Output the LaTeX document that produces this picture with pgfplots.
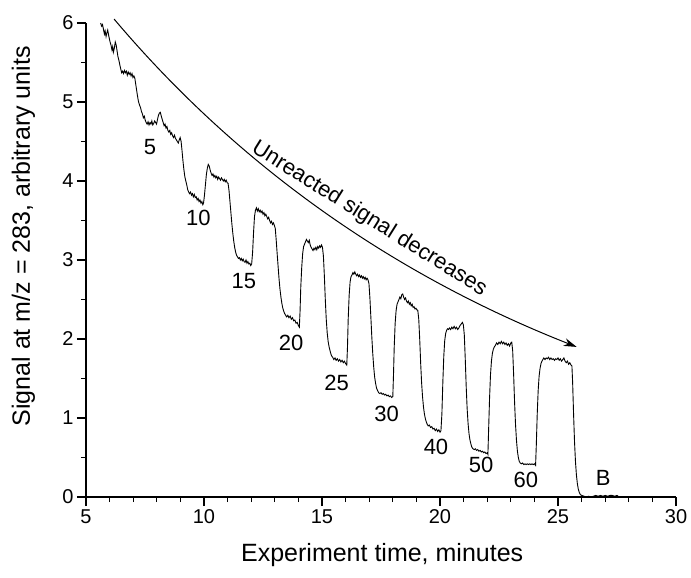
\documentclass[border=0pt]{standalone}
\usepackage{fontspec}
\setmainfont{Liberation Sans}
\usepackage{pgfplots}
\pgfplotsset{compat=1.18}
\usetikzlibrary{arrows.meta}
\newcommand{\tickfont}{\fontsize{20bp}{24bp}\selectfont}
\newcommand{\labfont}{\fontsize{25bp}{30bp}\selectfont}
\newcommand{\annfont}{\fontsize{22bp}{26bp}\selectfont}
\begin{document}
\begin{tikzpicture}
\begin{axis}[
 scale only axis, width=590bp, height=474bp,
 xmin=5, xmax=30, ymin=0, ymax=6,
 axis lines=left, axis line style={-, line width=1.1bp},
 xtick={5,10,...,30}, ytick={0,1,...,6},
 minor x tick num=4, minor y tick num=1,
 tick align=outside, major tick length=9bp, minor tick length=5bp,
 tick style={line width=1.1bp, black},
 /pgf/number format/assume math mode=true,
 tick label style={font=\tickfont},
 xlabel={Experiment time, minutes},
 ylabel={Signal at m/z = 283, arbitrary units},
 every axis x label/.style={at={(axis description cs:0.502,-0.122)},anchor=center,font=\labfont},
 every axis y label/.style={at={(axis description cs:-0.106,0.55)},anchor=center,rotate=90,font=\labfont},
 clip=false,
]
\addplot[black, line width=0.9bp] table {
x y
5.62 6.00
5.66 5.96
5.70 5.98
5.74 5.92
5.78 5.86
5.81 5.90
5.85 5.83
5.88 5.87
5.92 5.91
5.95 5.86
5.99 5.80
6.02 5.76
6.06 5.72
6.10 5.66
6.13 5.70
6.16 5.63
6.20 5.68
6.24 5.76
6.28 5.72
6.31 5.66
6.35 5.58
6.40 5.52
6.44 5.46
6.48 5.41
6.51 5.37
6.55 5.39
6.59 5.36
6.63 5.40
6.67 5.37
6.71 5.39
6.75 5.34
6.79 5.38
6.83 5.35
6.87 5.37
6.91 5.33
6.95 5.36
6.99 5.31
7.03 5.33
7.07 5.30
7.10 5.24
7.14 5.16
7.18 5.08
7.22 5.01
7.27 4.96
7.31 4.93
7.35 4.88
7.39 4.85
7.43 4.80
7.47 4.82
7.51 4.77
7.55 4.74
7.59 4.72
7.63 4.75
7.67 4.71
7.71 4.74
7.75 4.72
7.79 4.76
7.83 4.71
7.87 4.73
7.91 4.76
7.95 4.74
7.99 4.72
8.03 4.78
8.07 4.83
8.11 4.86
8.15 4.87
8.19 4.82
8.23 4.78
8.27 4.74
8.31 4.70
8.35 4.72
8.39 4.67
8.43 4.69
8.47 4.64
8.51 4.62
8.55 4.64
8.59 4.59
8.63 4.61
8.67 4.57
8.71 4.55
8.75 4.58
8.79 4.54
8.83 4.52
8.87 4.50
8.91 4.48
8.95 4.52
8.99 4.55
9.03 4.50
9.07 4.38
9.11 4.25
9.15 4.14
9.19 4.05
9.23 4.00
9.27 3.95
9.31 3.89
9.35 3.86
9.39 3.84
9.43 3.86
9.47 3.82
9.51 3.84
9.55 3.80
9.59 3.83
9.63 3.79
9.67 3.80
9.71 3.76
9.75 3.78
9.79 3.74
9.83 3.76
9.87 3.72
9.91 3.74
9.95 3.70
9.98 3.72
10.02 3.82
10.06 3.95
10.10 4.08
10.14 4.16
10.18 4.21
10.22 4.19
10.26 4.14
10.30 4.10
10.34 4.07
10.38 4.09
10.42 4.05
10.46 4.07
10.50 4.04
10.54 4.06
10.58 4.02
10.62 4.05
10.66 4.03
10.70 4.01
10.74 4.04
10.78 4.02
10.82 4.00
10.86 4.02
10.90 3.99
10.94 4.01
10.98 3.98
11.02 3.97
11.06 3.88
11.10 3.74
11.14 3.60
11.18 3.46
11.22 3.34
11.26 3.24
11.30 3.16
11.34 3.10
11.38 3.06
11.42 3.04
11.46 3.02
11.50 3.03
11.54 3.00
11.58 3.02
11.62 2.99
11.66 3.01
11.70 2.98
11.74 2.97
11.78 3.00
11.82 2.96
11.86 2.98
11.90 2.95
11.94 2.96
11.98 2.93
12.02 2.95
12.06 3.10
12.10 3.35
12.14 3.55
12.18 3.63
12.22 3.66
12.26 3.62
12.30 3.65
12.34 3.61
12.38 3.63
12.42 3.60
12.46 3.62
12.50 3.58
12.54 3.60
12.58 3.56
12.62 3.58
12.66 3.55
12.70 3.52
12.74 3.54
12.78 3.50
12.82 3.47
12.86 3.49
12.90 3.45
12.94 3.47
12.98 3.44
13.02 3.40
13.06 3.25
13.10 3.08
13.14 2.92
13.18 2.76
13.22 2.63
13.26 2.53
13.30 2.45
13.34 2.39
13.38 2.35
13.42 2.32
13.46 2.30
13.50 2.28
13.55 2.30
13.60 2.27
13.65 2.29
13.70 2.25
13.75 2.27
13.80 2.23
13.85 2.24
13.90 2.20
13.95 2.21
14.00 2.17
14.04 2.15
14.07 2.35
14.10 2.65
14.14 2.90
14.18 3.08
14.22 3.17
14.26 3.20
14.30 3.23
14.34 3.26
14.38 3.24
14.42 3.22
14.46 3.25
14.50 3.19
14.54 3.16
14.58 3.14
14.62 3.12
14.66 3.15
14.70 3.13
14.74 3.16
14.78 3.13
14.82 3.17
14.86 3.15
14.90 3.18
14.94 3.16
14.98 3.19
15.02 3.16
15.06 3.05
15.10 2.80
15.14 2.50
15.18 2.25
15.22 2.08
15.26 1.97
15.30 1.90
15.35 1.84
15.40 1.79
15.45 1.77
15.50 1.74
15.55 1.76
15.60 1.73
15.65 1.75
15.70 1.72
15.75 1.74
15.80 1.71
15.85 1.73
15.90 1.70
15.95 1.72
16.00 1.69
16.05 1.67
16.08 1.90
16.11 2.25
16.15 2.55
16.19 2.72
16.23 2.79
16.27 2.81
16.31 2.84
16.35 2.82
16.39 2.85
16.43 2.82
16.47 2.80
16.51 2.82
16.55 2.79
16.59 2.81
16.63 2.78
16.67 2.80
16.71 2.77
16.75 2.79
16.79 2.76
16.83 2.78
16.87 2.75
16.91 2.77
16.95 2.75
16.99 2.70
17.03 2.52
17.07 2.28
17.11 2.03
17.15 1.82
17.19 1.65
17.23 1.52
17.27 1.44
17.31 1.38
17.35 1.35
17.40 1.32
17.45 1.31
17.50 1.32
17.55 1.30
17.60 1.31
17.65 1.29
17.70 1.30
17.75 1.28
17.80 1.29
17.85 1.27
17.90 1.28
17.95 1.26
18.00 1.27
18.03 1.55
18.06 1.90
18.10 2.20
18.14 2.36
18.18 2.44
18.22 2.47
18.26 2.50
18.30 2.53
18.34 2.51
18.38 2.56
18.42 2.57
18.46 2.53
18.50 2.50
18.54 2.52
18.58 2.48
18.62 2.46
18.66 2.48
18.70 2.44
18.74 2.46
18.78 2.42
18.82 2.44
18.86 2.40
18.90 2.41
18.94 2.38
18.98 2.39
19.02 2.37
19.06 2.36
19.10 2.25
19.14 2.00
19.18 1.70
19.22 1.45
19.26 1.27
19.30 1.14
19.34 1.05
19.38 0.99
19.42 0.95
19.46 0.92
19.50 0.90
19.55 0.91
19.60 0.88
19.65 0.89
19.70 0.86
19.75 0.87
19.80 0.84
19.85 0.86
19.90 0.83
19.95 0.85
20.00 0.82
20.04 0.84
20.08 1.05
20.12 1.45
20.16 1.78
20.20 1.98
20.24 2.07
20.28 2.11
20.32 2.13
20.36 2.12
20.40 2.14
20.45 2.12
20.50 2.15
20.55 2.13
20.60 2.16
20.65 2.13
20.70 2.15
20.75 2.12
20.80 2.14
20.85 2.17
20.90 2.19
20.95 2.21
20.99 2.18
21.03 2.05
21.07 1.75
21.11 1.40
21.15 1.12
21.19 0.93
21.23 0.80
21.27 0.72
21.31 0.67
21.35 0.63
21.40 0.61
21.45 0.60
21.50 0.61
21.55 0.59
21.60 0.60
21.65 0.58
21.70 0.59
21.75 0.57
21.80 0.58
21.85 0.56
21.90 0.57
21.95 0.55
22.00 0.56
22.03 0.54
22.06 0.85
22.10 1.25
22.14 1.55
22.18 1.72
22.22 1.82
22.26 1.87
22.30 1.90
22.35 1.92
22.40 1.95
22.45 1.93
22.50 1.96
22.55 1.94
22.60 1.97
22.65 1.94
22.70 1.96
22.75 1.93
22.80 1.95
22.85 1.92
22.90 1.94
22.95 1.91
23.00 1.95
23.04 1.96
23.08 1.85
23.12 1.55
23.16 1.20
23.20 0.92
23.24 0.72
23.28 0.58
23.32 0.50
23.36 0.45
23.40 0.43
23.45 0.42
23.50 0.43
23.55 0.41
23.60 0.42
23.65 0.41
23.70 0.42
23.75 0.41
23.80 0.42
23.85 0.41
23.90 0.42
23.95 0.41
24.00 0.42
24.05 0.40
24.08 0.65
24.12 1.05
24.16 1.35
24.20 1.53
24.24 1.63
24.28 1.69
24.32 1.72
24.36 1.74
24.40 1.76
24.45 1.74
24.50 1.76
24.55 1.75
24.60 1.77
24.65 1.74
24.70 1.76
24.75 1.74
24.80 1.75
24.85 1.73
24.90 1.75
24.95 1.74
25.00 1.76
25.05 1.73
25.10 1.75
25.15 1.72
25.20 1.74
25.25 1.76
25.30 1.72
25.35 1.70
25.40 1.72
25.45 1.68
25.50 1.70
25.55 1.67
25.59 1.66
25.62 1.45
25.66 1.05
25.70 0.70
25.74 0.45
25.78 0.28
25.82 0.17
25.86 0.10
25.90 0.06
25.95 0.03
26.00 0.02
26.10 0.01
26.20 0.00
26.30 0.01
26.40 0.00
26.50 0.01
26.60 0.02
26.70 0.01
26.80 0.02
26.90 0.01
27.00 0.02
27.10 0.01
27.20 0.02
27.30 0.02
27.40 0.01
27.50 0.02
27.55 0.01
};
\coordinate (O) at (rel axis cs:0,0);
\draw[line width=1bp, -{Stealth[length=13bp,width=8bp]}] (axis cs:6.19,6.05) .. controls (axis cs:11.40,4.207) and (axis cs:17.94,2.823) .. (axis cs:25.79,1.90);
\node[font=\annfont, rotate=-32] at (axis cs:17.0,3.52) {Unreacted signal decreases};
\node[font=\annfont] at (axis cs:7.71,4.43) {5};
\node[font=\annfont] at (axis cs:9.76,3.53) {10};
\node[font=\annfont] at (axis cs:11.69,2.74) {15};
\node[font=\annfont] at (axis cs:13.69,1.95) {20};
\node[font=\annfont] at (axis cs:15.62,1.45) {25};
\node[font=\annfont] at (axis cs:17.74,1.05) {30};
\node[font=\annfont] at (axis cs:19.83,0.64) {40};
\node[font=\annfont] at (axis cs:21.74,0.41) {50};
\node[font=\annfont] at (axis cs:23.64,0.22) {60};
\node[font=\annfont] at (axis cs:26.92,0.24) {B};
\end{axis}
\pgfresetboundingbox
\path[use as bounding box] ([xshift=-86bp,yshift=-81bp]O) rectangle ++(691bp,578bp);
\end{tikzpicture}
\end{document}
